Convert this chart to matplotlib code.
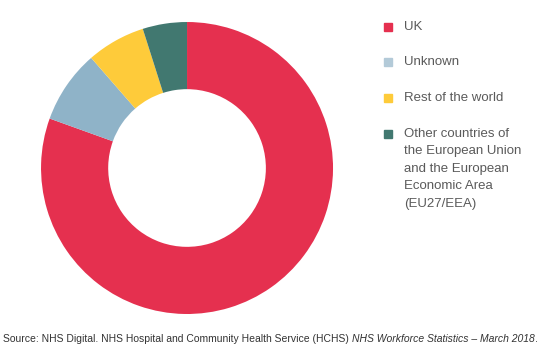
import matplotlib.pyplot as plt
from matplotlib.patches import Rectangle

plt.rcParams['font.family'] = ['Liberation Sans', 'DejaVu Sans']

# share of HCHS staff by nationality (%)
labels = ['UK', 'Unknown', 'Rest of the world',
          'Other countries of\nthe European Union\nand the European\nEconomic Area\n(EU27/EEA)']
shares = [80.5, 8.1, 6.5, 4.9]
colors = ['#E5304F', '#8FB3C8', '#FECB3A', '#417870']
legend_colors = ['#E5304F', '#B3CAD8', '#FECB3A', '#417870']

fig = plt.figure(figsize=(5.48, 3.55), dpi=100)
ax = fig.add_axes([0.0748, 0.1155, 0.533, 0.8225])
ax.pie(shares, colors=colors, startangle=90, counterclock=False,
       radius=1, wedgeprops=dict(width=0.46, linewidth=0))
ax.set_xlim(-1, 1)
ax.set_ylim(-1, 1)
ax.set_aspect('equal')
ax.axis('off')

# legend
legend_y = [27, 62, 98, 134]
for lab, col, y in zip(labels, legend_colors, legend_y):
    fy = 1 - y / 355
    fig.patches.append(Rectangle((384 / 548, fy - 4 / 355), 8 / 548, 8 / 355,
                                 color=col, transform=fig.transFigure))
    fig.text(404 / 548, fy + 6 / 355, lab, fontsize=9.5, color='#5a5a5a',
             va='top', ha='left', linespacing=1.6)

# source line
t1 = fig.text(3 / 548, 1 - 342 / 355,
              'Source: NHS Digital. NHS Hospital and Community Health Service (HCHS) ',
              fontsize=7.5, color='#333333', va='baseline')
t2 = ax.annotate('NHS Workforce Statistics \u2013 March 2018', xy=(1, 0), xycoords=t1,
                 fontsize=7.5, color='#333333', style='italic', va='bottom',
                 annotation_clip=False)
ax.annotate('.', xy=(1, 0), xycoords=t2, fontsize=7.5, color='#333333',
            va='bottom', annotation_clip=False)

fig.savefig('out.png', dpi=100)
